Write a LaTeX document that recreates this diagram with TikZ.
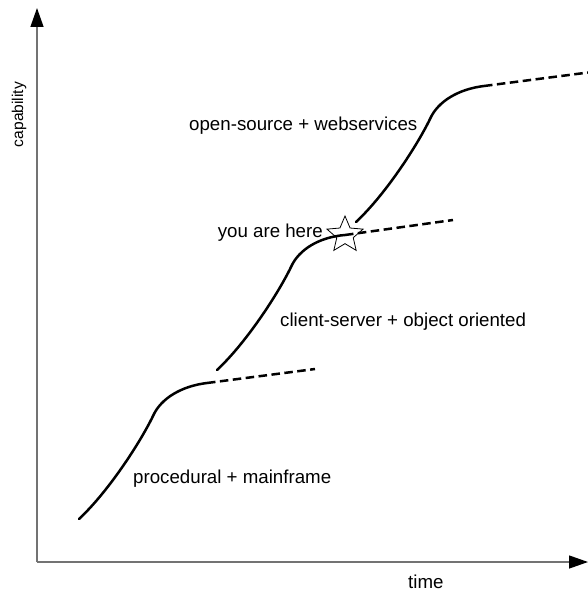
\documentclass[tikz,border=0pt]{standalone}
\usepackage{fontspec}
\setmainfont{Liberation Sans}
\usetikzlibrary{arrows.meta,shapes.geometric}
\begin{document}
\begin{tikzpicture}[x=1pt,y=-1pt,
  axis/.style={draw=black!55,line width=1.3pt,-{Triangle[length=19pt,width=13pt,color=black]}},
  scurve/.style={line width=2.5pt,line cap=round},
  trend/.style={line width=2.5pt,dash pattern=on 8.5pt off 4.5pt},
  lbl/.style={inner sep=0pt,font=\fontsize{18.7}{22}\selectfont},
  ylbl/.style={inner sep=0pt,font=\fontsize{15.6}{19}\selectfont,rotate=90}]
\useasboundingbox (0,0) rectangle (588,591);
\clip (0,0) rectangle (588,591);
% axes
\coordinate (origin) at (37,562);
\coordinate (ytip) at (37,8);
\coordinate (xtip) at (588,562);
\draw[axis] (origin) -- (ytip);
\draw[axis] (origin) -- (xtip);
% curve 1
\coordinate (s1) at (79,519);
\coordinate (i1) at (153,416);
\coordinate (e1) at (207,383);
\coordinate (d1) at (315,369);
\draw[scurve] (s1) .. controls (109,491) and (141,441) .. (i1)
  .. controls (161,398) and (182,386) .. (e1);
\draw[trend] (e1) -- (d1);
% curve 2
\node[draw,line width=0.8pt,shape=star,star points=5,star point ratio=2.2,
  minimum size=38pt,inner sep=0pt] (here) at (345,235) {};
\coordinate (s2) at (217,370);
\coordinate (i2) at (291,267);
\coordinate (d2) at (453,220);
\draw[scurve] (s2) .. controls (247,342) and (279,292) .. (i2)
  .. controls (299,249) and (320,237) .. (here.center);
\draw[trend] (here.center) -- (d2);
% curve 3
\coordinate (s3) at (356,222);
\coordinate (i3) at (430,119);
\coordinate (e3) at (484,86);
\coordinate (d3) at (592,72);
\draw[scurve] (s3) .. controls (386,194) and (418,144) .. (i3)
  .. controls (438,101) and (459,89) .. (e3);
\draw[trend] (e3) -- (d3);
% labels
\node[lbl,anchor=base west] (l3) at (189,130) {open-source + webservices};
\node[lbl,anchor=base east] (lhere) at (323,237) {you are here};
\node[lbl,anchor=base west] (l2) at (280,326) {client-server + object oriented};
\node[lbl,anchor=base west] (l1) at (133,483) {procedural + mainframe};
\node[lbl,anchor=base west] (xl) at (408,588) {time};
\node[ylbl,anchor=base] (yl) at (23,114.5) {capability};
\end{tikzpicture}
\end{document}
